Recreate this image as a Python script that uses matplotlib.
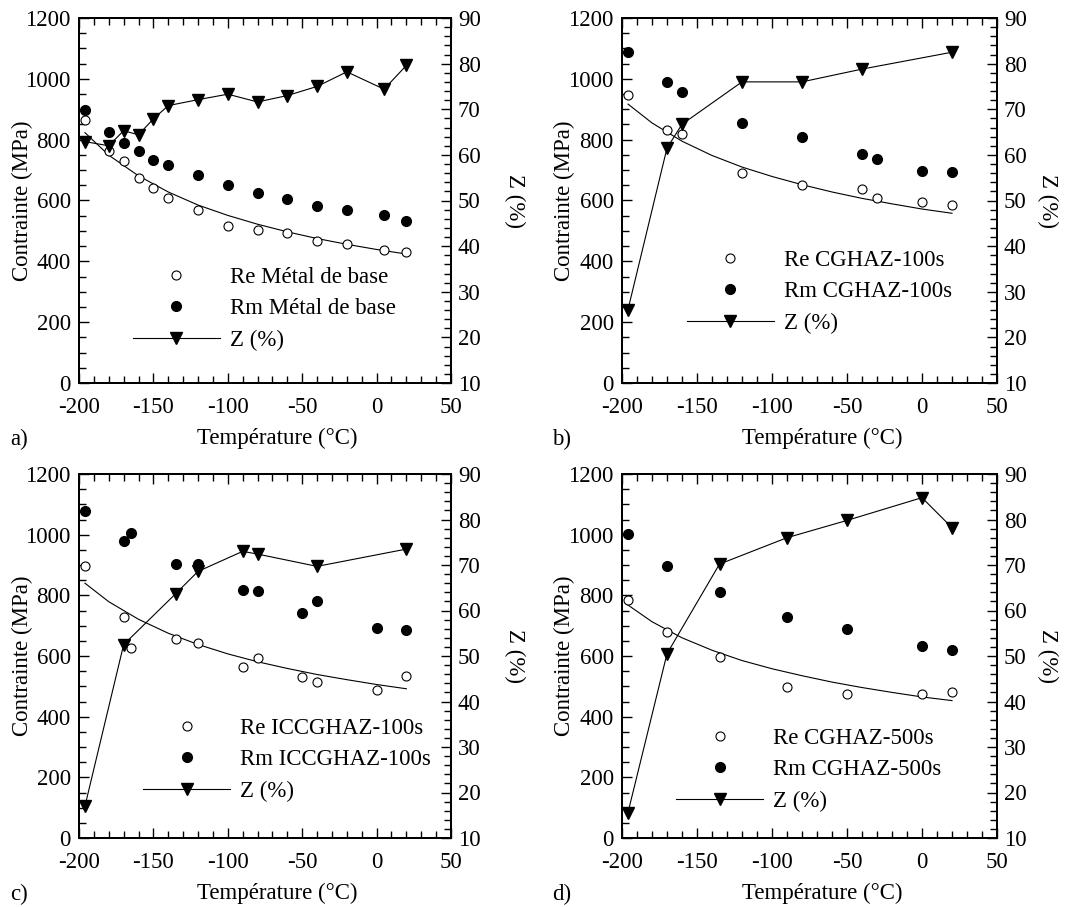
import matplotlib
matplotlib.use("Agg")
import matplotlib.pyplot as plt
from matplotlib.lines import Line2D
from matplotlib.ticker import MultipleLocator

plt.rcParams['font.family'] = ['Liberation Serif', 'DejaVu Serif']
plt.rcParams['font.size'] = 16.5
plt.rcParams['axes.unicode_minus'] = False

# a) metal de base
temp_a = [-196, -180, -170, -160, -150, -140, -120, -100, -80, -60, -40, -20, 5, 20]
re_a = [865, 764, 730, 673, 640, 609, 569, 516, 503, 494, 467, 456, 436, 430]
rm_a = [896, 824, 788, 763, 732, 717, 684, 651, 626, 604, 582, 569, 552, 533]
zt_a = temp_a
z_a = [62.9, 62.0, 65.3, 64.4, 67.9, 70.8, 72.1, 73.3, 71.6, 73.0, 75.0, 78.2, 74.4, 79.6]

# b) CGHAZ-100s
temp_b = [-196, -170, -160, -120, -80, -40, -30, 0, 20]
re_b = [948, 832, 818, 689, 651, 638, 607, 596, 585]
rm_b = [1087, 989, 957, 856, 809, 752, 738, 697, 695]
zt_b = [-196, -170, -160, -120, -80, -40, 20]
z_b = [26.1, 61.5, 66.7, 76.0, 76.0, 78.8, 82.5]

# c) ICCGHAZ-100s
temp_c = [-196, -170, -165, -135, -120, -90, -80, -50, -40, 0, 20]
re_c = [896, 730, 627, 655, 642, 563, 594, 532, 514, 488, 533]
rm_c = [1079, 979, 1004, 904, 903, 819, 814, 742, 782, 692, 687]
zt_c = [-196, -170, -135, -120, -90, -80, -40, 20]
z_c = [17.0, 52.5, 63.7, 68.6, 73.0, 72.4, 69.7, 73.5]

# d) CGHAZ-500s
temp_d = [-196, -170, -135, -90, -50, 0, 20]
re_d = [783, 678, 598, 499, 474, 475, 482]
rm_d = [1002, 898, 810, 728, 689, 633, 619]
zt_d = temp_d
z_d = [15.6, 50.5, 70.2, 76.0, 79.8, 84.8, 78.2]

# Re fit curves
fit_t = [-196, -180, -160, -140, -120, -100, -80, -60, -40, -20, 0, 20]
fit_a = [823, 749, 681, 628, 585, 551, 522, 497, 475, 456, 439, 424]
fit_b = [917, 855, 795, 748, 710, 679, 652, 628, 607, 589, 572, 558]
fit_c = [840, 779, 721, 675, 638, 607, 581, 559, 539, 522, 506, 492]
fit_d = [768, 713, 660, 619, 585, 558, 535, 514, 496, 480, 465, 453]

names = ["Métal de base", "CGHAZ-100s", "ICCGHAZ-100s", "CGHAZ-500s"]
letters = ["a)", "b)", "c)", "d)"]

W, H = 1073, 907
fig = plt.figure(figsize=(W / 100, H / 100), dpi=100)

# pixel boxes (left, top, right, bottom)
boxes = [(79, 18, 451, 383), (622, 18, 997, 383),
         (79, 474, 451, 838), (622, 474, 997, 838)]
leg_anchor = [(0.145, 0.318), (0.173, 0.365), (0.172, 0.33), (0.144, 0.303)]
zlab_x = [1.17, 1.135, 1.17, 1.135]

panels = [
    (temp_a, re_a, rm_a, zt_a, z_a, fit_a),
    (temp_b, re_b, rm_b, zt_b, z_b, fit_b),
    (temp_c, re_c, rm_c, zt_c, z_c, fit_c),
    (temp_d, re_d, rm_d, zt_d, z_d, fit_d),
]

for i, (t, re, rm, zt, z, fit) in enumerate(panels):
    l, tp, r, b = boxes[i]
    ax = fig.add_axes([l / W, 1 - b / H, (r - l) / W, (b - tp) / H])
    ax2 = ax.twinx()

    ax.plot(fit_t, fit, color='black', lw=0.8, zorder=2)
    ax.plot(t, re, 'o', ms=6.5, mfc='white', mec='black', mew=0.8, zorder=3)
    ax.plot(t, rm, 'o', ms=7, mfc='black', mec='black', zorder=3)
    ax2.plot(zt, z, '-v', color='black', lw=0.8, ms=8)

    ax.set_xlim(-200, 50)
    ax.set_ylim(0, 1200)
    ax2.set_ylim(10, 90)
    ax.xaxis.set_major_locator(MultipleLocator(50))
    ax.xaxis.set_minor_locator(MultipleLocator(10))
    ax.yaxis.set_major_locator(MultipleLocator(200))
    ax.yaxis.set_minor_locator(MultipleLocator(50))
    ax2.yaxis.set_major_locator(MultipleLocator(10))
    ax2.yaxis.set_minor_locator(MultipleLocator(2))

    ax.tick_params(axis='x', which='both', direction='in', top=True, pad=10)
    ax.tick_params(axis='y', which='both', direction='in', right=False, pad=6)
    ax2.tick_params(axis='y', which='both', direction='in', pad=5)
    for a_ in (ax, ax2):
        a_.tick_params(which='major', length=7, width=1.0)
        a_.tick_params(which='minor', length=5, width=1.0)
        for sp in a_.spines.values():
            sp.set_linewidth(1.4)

    ax.set_xlabel("Température (°C)")
    ax.xaxis.set_label_coords(0.533, -0.122)
    ax.set_ylabel("Contrainte (MPa)", va='center')
    ax.yaxis.set_label_coords(-0.153, 0.5)
    ax2.set_ylabel("Z (%)", rotation=270, va='center')
    ax2.yaxis.set_label_coords(zlab_x[i], 0.5)

    handles = [
        Line2D([], [], ls='none', marker='o', ms=6.5, mfc='white', mec='black', mew=0.8),
        Line2D([], [], ls='none', marker='o', ms=7, mfc='black', mec='black'),
        Line2D([], [], color='black', lw=0.8, marker='v', ms=8),
    ]
    labels = ["Re " + names[i], "Rm " + names[i], "Z (%)"]
    ax2.legend(handles, labels, loc='upper left', bbox_to_anchor=leg_anchor[i],
               frameon=False, handlelength=3.8, handletextpad=0.45,
               labelspacing=0.45, borderpad=0, borderaxespad=0, numpoints=1)

    fig.text((10 if l < 100 else 552) / W, 1 - (b + 62) / H, letters[i],
             va='baseline', ha='left')

fig.savefig("out.png", dpi=100)
